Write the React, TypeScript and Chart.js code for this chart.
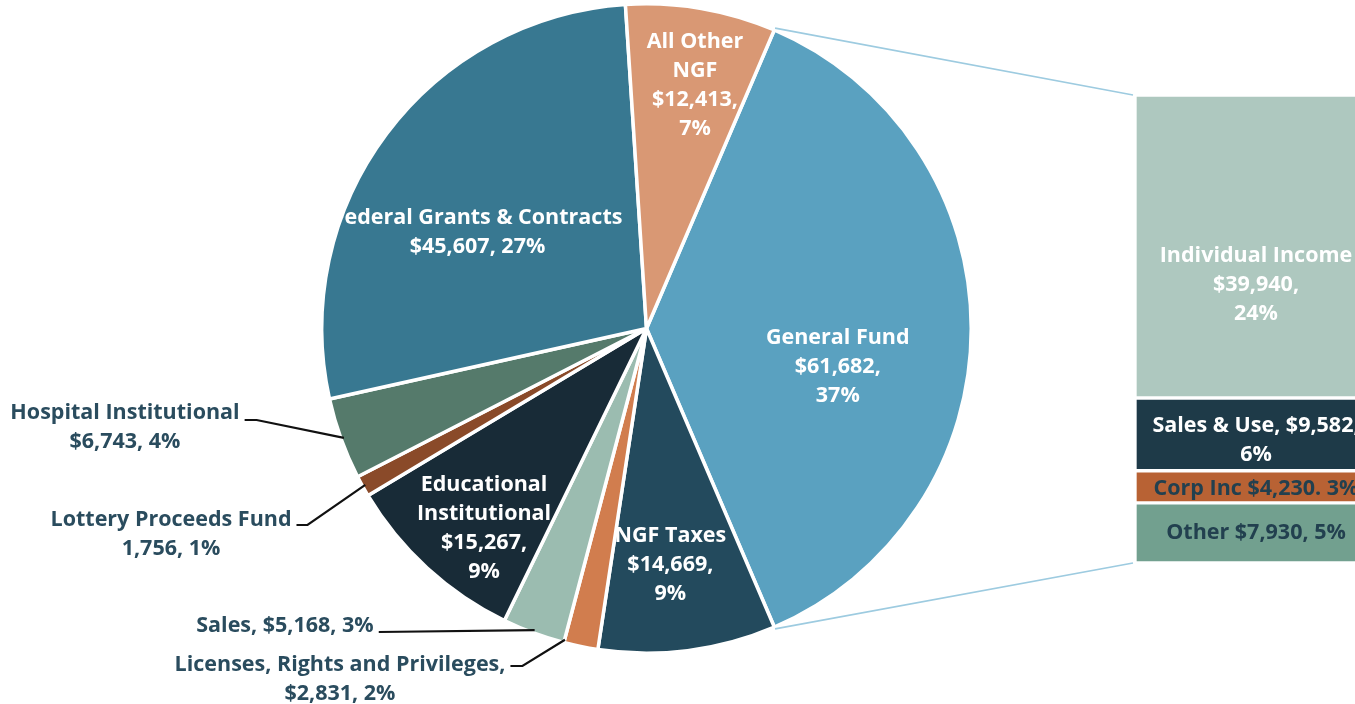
import React, { useEffect, useRef } from "react";
import { Chart, registerables } from "chart.js";

Chart.register(...registerables);

// ---------- data ----------
const pieLabels = [
  "General Fund",
  "NGF Taxes",
  "Licenses, Rights and Privileges",
  "Sales",
  "Educational Institutional",
  "Lottery Proceeds Fund",
  "Hospital Institutional",
  "Federal Grants & Contracts",
  "All Other NGF",
];
const pieValues = [61682, 14669, 2831, 5168, 15267, 1756, 6743, 45607, 12413];
const pieTextLines = [
  ["General Fund", "$61,682,", "37%"],
  ["NGF Taxes", "$14,669,", "9%"],
  ["Licenses, Rights and Privileges,", "$2,831, 2%"],
  ["Sales, $5,168, 3%"],
  ["Educational", "Institutional", "$15,267,", "9%"],
  ["Lottery Proceeds Fund", "1,756, 1%"],
  ["Hospital Institutional", "$6,743, 4%"],
  ["Federal Grants & Contracts", "$45,607, 27%"],
  ["All Other", "NGF", "$12,413,", "7%"],
];

const barLabels = ["Individual Income", "Sales & Use", "Corp Inc", "Other"];
const barValues = [39940, 9582, 4230, 7930];
const barTextLines = [
  ["Individual Income", "$39,940,", "24%"],
  ["Sales & Use, $9,582,", "6%"],
  ["Corp Inc $4,230. 3%"],
  ["Other $7,930, 5%"],
];

// ---------- styles ----------
const pieColors = [
  "#5AA1C0",
  "#234A5D",
  "#D17D4E",
  "#9BBCB0",
  "#182B37",
  "#8A4A29",
  "#557A6B",
  "#387891",
  "#D99874",
];
const barColors = ["#AEC8BF", "#1E3A48", "#B86234", "#72A08F"];
const barTextColors = ["#FFFFFF", "#FFFFFF", "#22404F", "#22404F"];
const OUTER_TEXT = "#2A4C5E";
const CONNECTOR = "#9DCBE0";
const FONT = "'Open Sans', 'Noto Sans', sans-serif";
const FONT_SIZE = 21.5;
const LINE_H = 29;

// inner label placement: angle offset from slice middle (deg), fraction of radius
const innerPlacement: Record<number, { da: number; f: number }> = {
  0: { da: 11, f: 0.6 },
  1: { da: 1.5, f: 0.73 },
  4: { da: -3.2, f: 0.79 },
  7: { da: -7, f: 0.6 },
  8: { da: 1.5, f: 0.767 },
};
// outer label placement: text center, leader elbow, angle offset at the rim
const outerPlacement: Record<
  number,
  { x: number; y: number; ly: number; knee: number; da: number }
> = {
  2: { x: 340, y: 665, ly: 666, knee: 12, da: 3 },
  3: { x: 285, y: 626, ly: 632, knee: 0, da: 0 },
  5: { x: 171, y: 520, ly: 525, knee: 11, da: 0 },
  6: { x: 125, y: 413, ly: 420, knee: 12, da: 0 },
};
const barTextDy = [38, 6, 2, 0];
const BAR_TEXT_DX = -2;

const BAR_LEFT = 1135;
const BAR_WIDTH = 246;

export default function App() {
  const pieRef = useRef<HTMLCanvasElement | null>(null);
  const barRef = useRef<HTMLCanvasElement | null>(null);

  useEffect(() => {
    document.body.style.overflow = "hidden";
    const barTotal = barValues.reduce((a, b) => a + b, 0);
    const pieTotal = pieValues.reduce((a, b) => a + b, 0);

    const barTextPlugin = {
      id: "barText",
      afterDatasetsDraw(chart: any) {
        const ctx = chart.ctx;
        ctx.save();
        ctx.font = `bold ${FONT_SIZE}px ${FONT}`;
        ctx.textAlign = "center";
        ctx.textBaseline = "middle";
        chart.data.datasets.forEach((_: any, i: number) => {
          const el = chart.getDatasetMeta(i).data[0];
          const { x, y, base } = el.getProps(["x", "y", "base"], true);
          const cy = (y + base) / 2 + barTextDy[i];
          const lines = barTextLines[i];
          ctx.fillStyle = barTextColors[i];
          lines.forEach((t, k) => {
            ctx.fillText(t, x + BAR_TEXT_DX, cy + (k - (lines.length - 1) / 2) * LINE_H);
          });
        });
        ctx.restore();
      },
    };

    const barChart = new Chart(barRef.current as HTMLCanvasElement, {
      type: "bar",
      data: {
        labels: ["General Fund"],
        datasets: barLabels.map((l, i) => ({
          label: l,
          data: [barValues[i]],
          backgroundColor: barColors[i],
          borderColor: "#FFFFFF",
          borderWidth: 2,
          borderSkipped: false,
          barPercentage: 1,
          categoryPercentage: 1,
        })),
      },
      options: {
        animation: false,
        responsive: false,
        events: [],
        layout: { padding: { top: 95, bottom: 141, left: 0, right: 0 } },
        plugins: { legend: { display: false }, tooltip: { enabled: false } },
        scales: {
          x: { stacked: true, display: false },
          y: { stacked: true, display: false, reverse: true, min: 0, max: barTotal },
        },
      },
      plugins: [barTextPlugin],
    } as any);

    const pieLabelPlugin = {
      id: "pieLabels",
      afterDatasetsDraw(chart: any) {
        const ctx = chart.ctx;
        const arcs = chart.getDatasetMeta(0).data;
        const first = arcs[0].getProps(["x", "y", "outerRadius", "startAngle", "endAngle"], true);
        const cx = first.x;
        const cy = first.y;
        const R = first.outerRadius;

        // connector lines from General Fund slice to bar
        const bars = barChart.data.datasets.map((_: any, i: number) =>
          barChart.getDatasetMeta(i).data[0].getProps(["x", "y", "base", "width"], true)
        );
        const top = Math.min(...bars.map((b: any) => Math.min(b.y, b.base)));
        const bottom = Math.max(...bars.map((b: any) => Math.max(b.y, b.base)));
        const bx = BAR_LEFT + bars[0].x - bars[0].width / 2 - 2;
        ctx.save();
        ctx.strokeStyle = CONNECTOR;
        ctx.lineWidth = 1.6;
        ctx.beginPath();
        ctx.moveTo(cx + Math.cos(first.startAngle) * (R + 2), cy + Math.sin(first.startAngle) * (R + 2));
        ctx.lineTo(bx, top);
        ctx.moveTo(cx + Math.cos(first.endAngle) * (R + 2), cy + Math.sin(first.endAngle) * (R + 2));
        ctx.lineTo(bx, bottom);
        ctx.stroke();
        ctx.restore();

        // inner labels clipped to the pie
        ctx.save();
        ctx.beginPath();
        ctx.arc(cx, cy, R - 1.5, 0, Math.PI * 2);
        ctx.clip();
        ctx.font = `bold ${FONT_SIZE}px ${FONT}`;
        ctx.textAlign = "center";
        ctx.textBaseline = "middle";
        ctx.fillStyle = "#FFFFFF";
        arcs.forEach((arc: any, i: number) => {
          const p = innerPlacement[i];
          if (!p) return;
          const { startAngle, endAngle } = arc.getProps(["startAngle", "endAngle"], true);
          const a = (startAngle + endAngle) / 2 + (p.da * Math.PI) / 180;
          const lx = cx + Math.cos(a) * R * p.f;
          const ly = cy + Math.sin(a) * R * p.f + 1;
          const lines = pieTextLines[i];
          lines.forEach((t, k) => {
            ctx.fillText(t, lx, ly + (k - (lines.length - 1) / 2) * LINE_H);
          });
        });
        ctx.restore();

        // outer labels with leader lines
        ctx.save();
        ctx.font = `bold ${FONT_SIZE}px ${FONT}`;
        ctx.textAlign = "center";
        ctx.textBaseline = "middle";
        arcs.forEach((arc: any, i: number) => {
          const p = outerPlacement[i];
          if (!p) return;
          const lines = pieTextLines[i];
          ctx.fillStyle = OUTER_TEXT;
          lines.forEach((t, k) => ctx.fillText(t, p.x, p.y + k * LINE_H));
          const w = ctx.measureText(lines[0]).width;
          const sx = p.x + w / 2 + 5;
          const { startAngle, endAngle } = arc.getProps(["startAngle", "endAngle"], true);
          const a = (startAngle + endAngle) / 2 + (p.da * Math.PI) / 180;
          ctx.strokeStyle = "#111111";
          ctx.lineWidth = 2.2;
          ctx.beginPath();
          ctx.moveTo(sx, p.ly);
          if (p.knee) ctx.lineTo(sx + p.knee, p.ly);
          ctx.lineTo(cx + Math.cos(a) * (R - 3), cy + Math.sin(a) * (R - 3));
          ctx.stroke();
        });
        ctx.restore();
      },
    };

    const pieChart = new Chart(pieRef.current as HTMLCanvasElement, {
      type: "pie",
      data: {
        labels: pieLabels,
        datasets: [
          {
            data: pieValues,
            backgroundColor: pieColors,
            borderColor: "#FFFFFF",
            borderWidth: 3.5,
          },
        ],
      },
      options: {
        animation: false,
        responsive: false,
        events: [],
        rotation: 90 - (pieValues[0] / pieTotal) * 180,
        layout: { padding: { left: 320, right: 382, top: 2, bottom: 49 } },
        plugins: { legend: { display: false }, tooltip: { enabled: false } },
      },
      plugins: [pieLabelPlugin],
    } as any);

    return () => {
      pieChart.destroy();
      barChart.destroy();
    };
  }, []);

  return (
    <div
      style={{
        position: "absolute",
        left: 0,
        top: 0,
        width: 1355,
        height: 704,
        overflow: "hidden",
        background: "#FFFFFF",
      }}
    >
      <canvas
        ref={pieRef}
        width={1355}
        height={704}
        style={{ position: "absolute", left: 0, top: 0, width: 1355, height: 704 }}
      />
      <canvas
        ref={barRef}
        width={BAR_WIDTH}
        height={704}
        style={{ position: "absolute", left: BAR_LEFT, top: 0, width: BAR_WIDTH, height: 704 }}
      />
    </div>
  );
}
